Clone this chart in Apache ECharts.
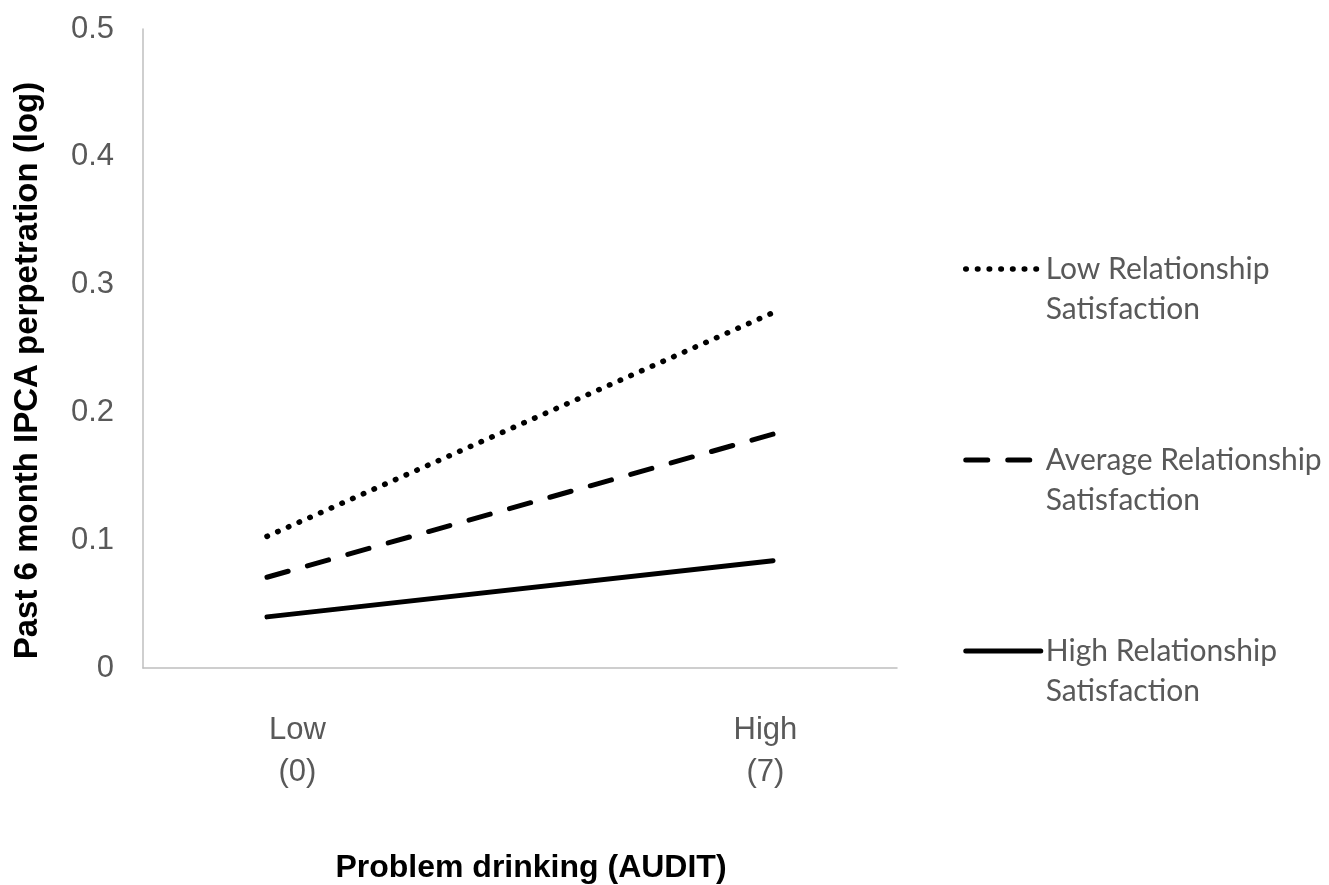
<!DOCTYPE html>
<html>
<head>
<meta charset="utf-8">
<script src="https://cdn.jsdelivr.net/npm/echarts@6/dist/echarts.min.js"></script>
<style>html,body{margin:0;padding:0;background:#fff;}#c{width:1329px;height:885px;}</style>
</head>
<body>
<div id="c"></div>
<script>
// ---- data ----
var xValues = [0, 1];
var xTickLabels = ['Low\n(0)', 'High\n(7)'];
var seriesNames = ['Low Relationship Satisfaction', 'Average Relationship Satisfaction', 'High Relationship Satisfaction'];
var lowSat = [0.103, 0.278];
var avgSat = [0.071, 0.183];
var highSat = [0.040, 0.084];
var yTicks = [0, 0.1, 0.2, 0.3, 0.4, 0.5];
var xAxisTitle = 'Problem drinking (AUDIT)';
var yAxisTitle = 'Past 6 month IPCA perpetration (log)';

function pairs(vals) { return xValues.map(function (x, i) { return [x, vals[i]]; }); }

var chart = echarts.init(document.getElementById('c'));
var gray = '#595959';
var option = {
  animation: false,
  backgroundColor: '#ffffff',
  grid: { left: 143, right: 432, top: 29, bottom: 217, containLabel: false, outerBoundsMode: 'none' },
  xAxis: {
    type: 'value', min: -0.245, max: 1.245,
    name: xAxisTitle, nameLocation: 'middle', nameGap: 184,
    nameTextStyle: { fontFamily: 'Liberation Sans', fontWeight: 'bold', fontSize: 32, color: '#000', padding: [0, 0, 0, 22] },
    axisLine: { show: true, onZero: false, lineStyle: { color: '#bfbfbf', width: 1.5 } },
    axisTick: { show: false },
    splitLine: { show: false },
    axisLabel: {
      customValues: [xValues[0] + 0.06, xValues[1] - 0.015],
      formatter: function (v) { return xTickLabels[v < 0.5 ? 0 : 1]; },
      fontFamily: 'Liberation Sans', fontSize: 31, color: gray, lineHeight: 42, margin: 41
    }
  },
  yAxis: {
    type: 'value', min: yTicks[0], max: yTicks[yTicks.length - 1], interval: 0.1,
    name: yAxisTitle, nameLocation: 'middle', nameGap: 99,
    nameTextStyle: { fontFamily: 'Liberation Sans', fontWeight: 'bold', fontSize: 33, color: '#000', padding: [0, 44, 0, 0] },
    axisLine: { show: true, onZero: false, lineStyle: { color: '#bfbfbf', width: 1.5 } },
    axisTick: { show: false },
    splitLine: { show: false },
    axisLabel: { fontFamily: 'Liberation Sans', fontSize: 31, color: gray, margin: 29 }
  },
  legend: {
    orient: 'vertical', left: 958, top: 204, itemWidth: 75, itemHeight: 14, itemGap: 71,
    data: seriesNames,
    formatter: function (n) { return '\n' + n.replace(' Satisfaction', '\nSatisfaction'); },
    itemStyle: { opacity: 0, color: 'transparent', borderWidth: 0 },
    lineStyle: { width: 'inherit' },
    textStyle: { fontFamily: 'Lato', fontSize: 30, color: gray, lineHeight: 40 }
  },
  series: [
    { name: seriesNames[0], type: 'line', symbol: 'none', data: pairs(lowSat),
      lineStyle: { color: '#000', width: 5.5, type: [0.5, 11.2], cap: 'round' }, itemStyle: { color: '#000' } },
    { name: seriesNames[1], type: 'line', symbol: 'none', data: pairs(avgSat),
      lineStyle: { color: '#000', width: 5, type: [22, 20], cap: 'round' }, itemStyle: { color: '#000' } },
    { name: seriesNames[2], type: 'line', symbol: 'none', data: pairs(highSat),
      lineStyle: { color: '#000', width: 5, type: 'solid', cap: 'round' }, itemStyle: { color: '#000' } }
  ]
};
chart.setOption(option);
</script>
</body>
</html>
